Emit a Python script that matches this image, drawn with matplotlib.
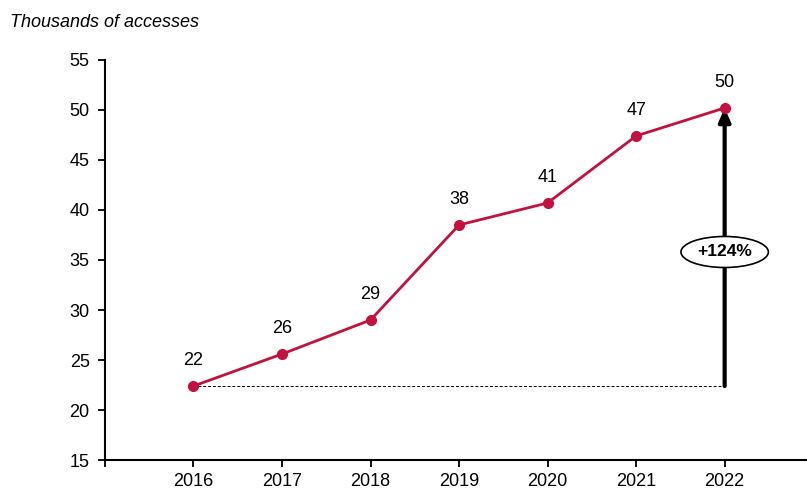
import matplotlib.pyplot as plt

# data
years = [2016, 2017, 2018, 2019, 2020, 2021, 2022]
values = [22.4, 25.6, 29.0, 38.5, 40.7, 47.4, 50.2]
labels = ['22', '26', '29', '38', '41', '47', '50']
growth_label = '+124%'

plt.rcParams['font.family'] = ['Liberation Sans', 'DejaVu Sans']

fig = plt.figure(figsize=(8.07, 4.91), dpi=100)
ax = fig.add_axes([0.130, 0.063, 0.870, 0.815])

red = '#C41140'

# dashed baseline from the first point to the last year
ax.plot([years[0], years[-1]], [values[0], values[0]], color='black',
        linestyle=(0, (3, 2)), linewidth=0.7, zorder=1)

# arrow showing growth
ax.annotate('', xy=(years[-1], values[-1]), xytext=(years[-1], values[0]),
            arrowprops=dict(arrowstyle='-|>,head_length=0.8,head_width=0.35',
                            color='black', lw=3, shrinkA=0, shrinkB=0),
            zorder=2)
ax.text(years[-1], (values[0] + values[-1]) / 2 - 0.5, growth_label,
        ha='center', va='center', fontsize=12.5, fontweight='bold',
        bbox=dict(boxstyle='ellipse,pad=0.2', fc='white', ec='black', lw=1.2),
        zorder=4)

# main line
ax.plot(years, values, color=red, linewidth=2, marker='o', markersize=7, zorder=3)
for x, y, t in zip(years, values, labels):
    ax.annotate(t, (x, y), xytext=(0, 12), textcoords='offset points',
                ha='center', va='bottom', fontsize=13)

ax.set_xlim(2015, 2022.93)
ax.set_ylim(15, 55)
ax.set_yticks(range(15, 56, 5))
ax.set_xticks([2015] + years)
ax.set_xticklabels([''] + [str(y) for y in years])

ax.spines['top'].set_visible(False)
ax.spines['right'].set_visible(False)
ax.spines['left'].set_linewidth(1.5)
ax.spines['bottom'].set_linewidth(1.5)
ax.tick_params(axis='both', direction='out', length=5, width=1.3, labelsize=13)
ax.tick_params(axis='x', pad=4)
ax.tick_params(axis='y', pad=6)

fig.text(0.012, 0.955, 'Thousands of accesses', fontsize=13, style='italic',
         ha='left', va='center')

fig.savefig('out.png', dpi=100)
